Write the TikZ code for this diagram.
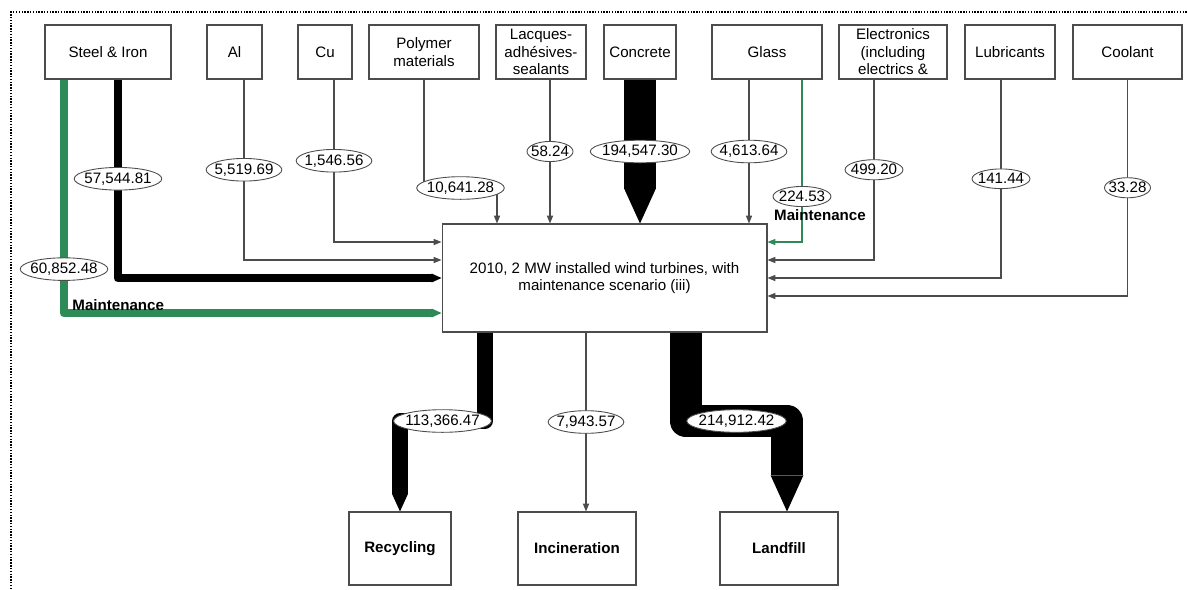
\documentclass[tikz,border=0pt]{standalone}
\usepackage{fontspec}
\setmainfont{Liberation Sans}
\usetikzlibrary{arrows.meta,shapes.geometric}
\definecolor{mgreen}{RGB}{46,139,87}
\tikzset{
  every node/.style={font=\fontsize{8.6}{10}\selectfont},
  box/.style={draw=black!70,line width=0.6pt,fill=white,align=center,
    inner xsep=1pt,inner ysep=0pt,minimum height=1.08cm},
  sink/.style={box,minimum height=1.46cm,font=\fontsize{8.6}{10}\selectfont\bfseries},
  lbl/.style={ellipse,draw=black!70,line width=0.5pt,fill=white,
    inner xsep=-1.5pt,inner ysep=1pt},
  mtext/.style={inner sep=0pt,font=\fontsize{8.6}{10}\selectfont\bfseries},
  feed/.style={draw=black!70,line width=0.6pt,-{Triangle[length=4.5pt,width=3.5pt]}},
  bigflow/.style={line width=#1,line join=round,
    -{Triangle[width=0pt 1,length=0pt 1.1,line width=0pt]}},
}
\begin{document}
\begin{tikzpicture}[x=0.02cm,y=-0.02cm]
  \useasboundingbox (0,0) rectangle (1187,589);
  \draw[line width=0.8pt,dash pattern=on 0.8pt off 0.8pt] (11,589) -- (11,12) -- (1187,12);

  % materials
  \node[box,minimum width=2.52cm] (steel) at (108,52) {Steel \& Iron};
  \node[box,minimum width=1.1cm] (al) at (234.5,52) {Al};
  \node[box,minimum width=1.08cm] (cu) at (325,52) {Cu};
  \node[box,minimum width=2.2cm] (poly) at (424,52) {Polymer\\materials};
  \node[box,minimum width=1.8cm] (lacq) at (541,52) {Lacques-\\adhésives-\\sealants};
  \node[box,minimum width=1.44cm] (concr) at (640,52) {Concrete};
  \node[box,minimum width=2.2cm] (glass) at (767,52) {Glass};
  \node[box,minimum width=2.16cm] (elec) at (893,52) {Electronics\\(including\\electrics \&};
  \node[box,minimum width=1.8cm] (lubr) at (1010,52) {Lubricants};
  \node[box,minimum width=2.18cm] (cool) at (1127.5,52) {Coolant};

  \node[box,minimum width=6.5cm,minimum height=2.16cm] (hub) at (604.5,278)
    {2010, 2 MW installed wind turbines, with\\maintenance scenario (iii)};

  % end of life
  \node[sink,minimum width=2.04cm] (recyc) at (400,548.5) {Recycling};
  \node[sink,minimum width=2.36cm] (incin) at (577,548.5) {Incineration};
  \node[sink,minimum width=2.36cm] (landf) at (779,548.5) {Landfill};

  % inputs
  \draw[bigflow=5.1pt,draw=mgreen] (steel.south -| 64,0) |-
    node[lbl,pos=.406] (lsteelm) {60,852.48}
    node[mtext,pos=.5,anchor=base west,xshift=0.08cm,yshift=0.05cm] (msteel) {Maintenance}
    (hub.west |- 0,313);
  \draw[bigflow=5.1pt] (steel.south -| 118,0) |- node[lbl,pos=.25] (lsteel) {57,544.81} (hub.west |- 0,278);
  \draw[feed] (al.south -| 244,0) |- node[lbl,pos=.25] (lal) {5,519.69} (hub.west |- 0,260);
  \draw[feed] (cu.south -| 334,0) |- node[lbl,pos=.25] (lcu) {1,546.56} (hub.west |- 0,242);
  \draw[feed] (poly.south) |- node[lbl,pos=.75] (lpoly) {10,641.28} (497,188) -- (hub.north -| 497,0);
  \draw[feed] (lacq.south -| 550,0) -- node[lbl] (llacq) {58.24} (hub.north -| 550,0);
  \draw[bigflow=18pt] (concr.south) -- node[lbl] (lconcr) {194,547.30} (hub.north -| concr.south);
  \draw[feed] (glass.south -| 749,0) -- node[lbl] (lglass) {4,613.64} (hub.north -| 749,0);
  \draw[feed,draw=mgreen] (glass.south -| 802,0) |-
    node[lbl,pos=.36] (lglassm) {224.53}
    node[mtext,pos=.417,xshift=0.36cm] (mglass) {Maintenance}
    (hub.east |- 0,242);
  \draw[feed] (elec.south -| 874,0) |- node[lbl,pos=.25] (lelec) {499.20} (hub.east |- 0,260);
  \draw[feed] (lubr.south -| 1001,0) |- node[lbl,pos=.25] (llubr) {141.44} (hub.east |- 0,278);
  \draw[feed] (cool.south) |- node[lbl,pos=.25] (lcool) {33.28} (hub.east |- 0,296);

  % outputs
  \draw[bigflow=9pt] (hub.south -| 485,0) -- (485,421) -- node[lbl] (lrec) {113,366.47} (400,421) -- (recyc.north);
  \draw[feed] (hub.south -| 586,0) -- node[lbl] (linc) {7,943.57} (incin.north -| 586,0);
  \draw[bigflow=18.7pt] (hub.south -| 686,0) -- (686,421) -- node[lbl] (lland) {214,912.42} (787,421) -- (landf.north -| 787,0);
\end{tikzpicture}
\end{document}
